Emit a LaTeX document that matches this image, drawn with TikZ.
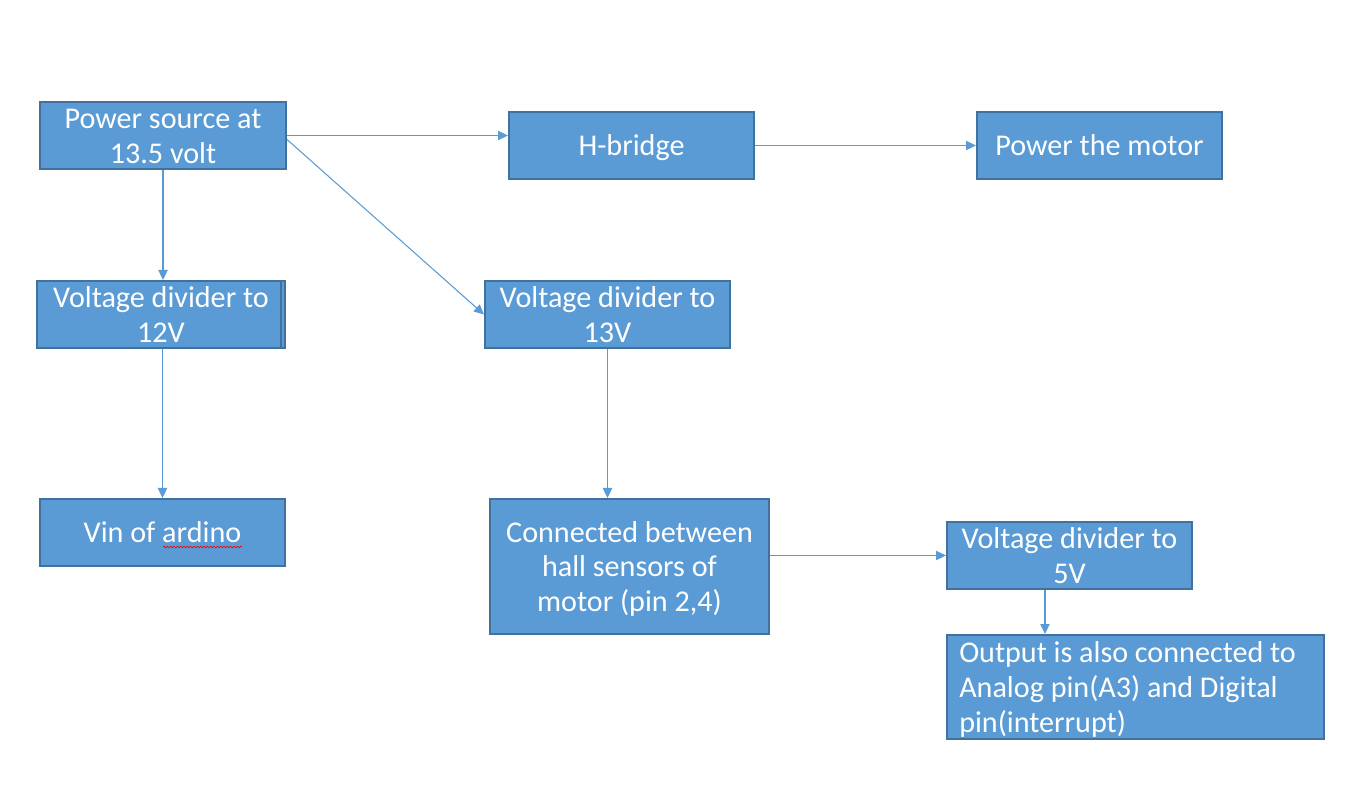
\documentclass[tikz,border=0pt]{standalone}
\usepackage{fontspec}
\setmainfont{Carlito}
\usetikzlibrary{arrows.meta,decorations.pathmorphing}
\definecolor{boxfill}{HTML}{5B9BD5}
\definecolor{boxline}{HTML}{41719C}
\definecolor{arrcol}{HTML}{5B9BD5}
\tikzset{
  x=0.75pt, y=-0.75pt,
  box/.style 2 args={draw=boxline, fill=boxfill, line width=1.5pt, inner sep=0pt,
    minimum width=#1*0.75pt, minimum height=#2*0.75pt},
  txt/.style={text=white, font=\fontsize{22.6pt}{26pt}\selectfont, align=center, inner sep=0pt, yshift=-2.6pt},
  arr/.style={draw=arrcol, line width=0.8pt, -{Triangle[length=7.5pt,width=7pt]}},
}
\begin{document}
\begin{tikzpicture}
\useasboundingbox (0,0) rectangle (1364,787);
% boxes
\node[box={246}{67}] (P) at (163,135.5) {};
\node[txt] (Pt) at (P.center) {\strut Power source at\strut\\\strut 13.5 volt\strut};
\node[box={245}{67}] (H) at (631.5,145.5) {};
\node[txt] (Ht) at (H.center) {\strut H-bridge\strut};
\node[box={245}{67}] (M) at (1099.5,145.5) {};
\node[txt] (Mt) at (M.center) {\strut Power the motor\strut};
\node[box={248}{67}] (V12) at (161,314.5) {};
\draw[boxline, line width=1.2pt] (281,281) -- (281,348);
\node[txt] (V12t) at (V12.center) {\strut Voltage divider to\strut\\\strut 12V\strut};
\node[box={245}{67}] (V13) at (607.5,314.5) {};
\node[txt] (V13t) at (V13.center) {\strut Voltage divider to\strut\\\strut 13V\strut};
\node[box={245}{67}] (Vin) at (162.5,532.5) {};
\node[txt] (Vint) at (Vin.center) {\strut Vin of ardino\strut};
\draw[red, line width=0.5pt, decorate, decoration={snake, amplitude=0.6pt, segment length=2.5pt}] (163,547) -- (242,547);
\node[box={279}{135}] (C) at (629.5,566.5) {};
\node[txt] (Ct) at (C.center) {\strut Connected between\strut\\\strut hall sensors of\strut\\\strut motor (pin 2,4)\strut};
\node[box={245}{67}] (V5) at (1069.5,555.5) {};
\node[txt] (V5t) at (V5.center) {\strut Voltage divider to\strut\\\strut 5V\strut};
\node[box={377}{104}] (O) at (1135.5,687) {};
\node[txt, align=left, anchor=west] (Ot) at (959,687) {\strut Output is also connected to\strut\\\strut Analog pin(A3) and Digital\strut\\\strut pin(interrupt)\strut};
% connectors
\draw[arr] (P.east) -- (P.east -| H.west);
\draw[arr] (H.east) -- (M.west);
\draw[arr] (P.south) -- (P.south |- V12.north);
\draw[arr] ([yshift=-3pt]P.east) -- (V13.west);
\draw[arr] (Vin.north |- V12.south) -- (Vin.north);
\draw[arr] (V13.south) -- (V13.south |- C.north);
\draw[arr] (C.east |- V5.west) -- (V5.west);
\coordinate (v5o) at ([xshift=-18.4pt]V5.south);
\draw[arr] (v5o) -- (v5o |- O.north);
\end{tikzpicture}
\end{document}
